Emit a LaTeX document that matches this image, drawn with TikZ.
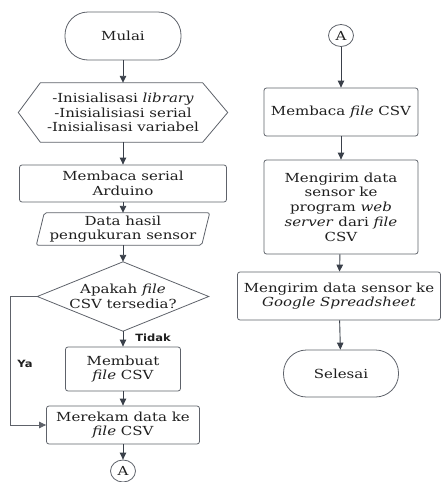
\documentclass[tikz,border=0pt]{standalone}
\usepackage{fontspec}
\setmainfont{DejaVu Serif}[FakeStretch=1.2]
\newfontfamily\lblfont{DejaVu Sans}[FakeStretch=1.15]
\usetikzlibrary{arrows.meta,shapes.geometric}
\definecolor{linec}{HTML}{3A404A}
\definecolor{boxc}{HTML}{5E626A}
\definecolor{txtc}{HTML}{1F1F1F}
\begin{document}
\begin{tikzpicture}[x=1pt,y=-1pt,
  every node/.style={font=\fontsize{12.5}{14.7}\selectfont, text=txtc, align=center, inner sep=0pt},
  procbox/.style={draw=boxc, line width=0.8pt, rounded corners=2.5pt},
  terminal/.style={draw=boxc, line width=0.8pt, rounded corners=23pt},
  conn/.style={ellipse, draw=boxc, line width=0.8pt, minimum width=25pt, minimum height=22pt},
  outline/.style={draw=boxc, line width=0.8pt},
  flow/.style={draw=linec, line width=0.9pt, -{Triangle[length=7pt,width=6.5pt]}},
  lbl/.style={font=\lblfont\bfseries\fontsize{10}{11}\selectfont, text=txtc}]

\useasboundingbox (0,0) rectangle (441,482);

% left column
\node[terminal, minimum width=116pt, minimum height=48pt] (start) at (123,36) {Mulai};

\node[minimum width=209pt, minimum height=59pt] (init) at (123,112.5)
  {-Inisialisasi \textit{library}\\-Inisialisiasi serial\\-Inisialisasi variabel};
\draw[outline] (init.west) -- ([xshift=22pt]init.north west) -- ([xshift=-25pt]init.north east)
  -- (init.east) -- ([xshift=-25pt]init.south east) -- ([xshift=22pt]init.south west) -- cycle;

\node[procbox, minimum width=207pt, minimum height=37pt] (read) at (123,183.5) {Membaca serial\\Arduino};

\node[minimum width=165pt, minimum height=32pt] (data) at (123,229) {Data hasil\\pengukuran sensor};
\draw[outline, rounded corners=2pt] ([xshift=4pt]data.north west) -- ([xshift=4pt]data.north east)
  -- ([xshift=-4pt]data.south east) -- ([xshift=-4pt]data.south west) -- cycle;

\node[minimum width=171pt, minimum height=69pt] (ask) at (123,296.5) {Apakah \textit{file}\\CSV tersedia?};
\draw[outline] (ask.west) -- (ask.north) -- (ask.east) -- (ask.south) -- cycle;

\node[procbox, minimum width=115pt, minimum height=44pt] (make) at (123,369) {Membuat\\\textit{file} CSV};
\node[procbox, minimum width=153pt, minimum height=38pt] (rec) at (123,425) {Merekam data ke\\\textit{file} CSV};
\node[conn] (ca) at (123,471) {A};

% right column
\node[conn] (cb) at (341,35.5) {A};
\node[procbox, minimum width=154pt, minimum height=48pt] (readcsv) at (341,112) {Membaca \textit{file} CSV};
\node[procbox, minimum width=154pt, minimum height=94pt] (send) at (341,207)
  {Mengirim data\\sensor ke\\program \textit{web}\\\textit{server} dari \textit{file}\\CSV};
\node[procbox, minimum width=203pt, minimum height=48pt] (sheet) at (339,296)
  {Mengirim data sensor ke\\\textit{Google Spreadsheet}};
\node[terminal, minimum width=115pt, minimum height=47pt] (stop) at (341,373.5) {Selesai};

% connectors
\draw[flow] (start) -- (init);
\draw[flow] (init) -- (read);
\draw[flow] (read) -- (data);
\draw[flow] (data) -- (ask);
\draw[flow] (ask.south) -- (make);
\draw[flow] (make) -- (rec);
\draw[flow] (rec) -- (ca);
\draw[flow, draw=boxc] (ask.west) -- ++(-27pt,0) |- (rec.west);
\node[lbl] (no) at (153,338) {Tidak};
\node[lbl] (yes) at (25,364) {Ya};

\draw[flow] (cb) -- (readcsv);
\draw[flow] (readcsv) -- (send);
\draw[flow] (send) -- (sheet);
\draw[flow] (sheet) -- (stop);
\end{tikzpicture}
\end{document}
